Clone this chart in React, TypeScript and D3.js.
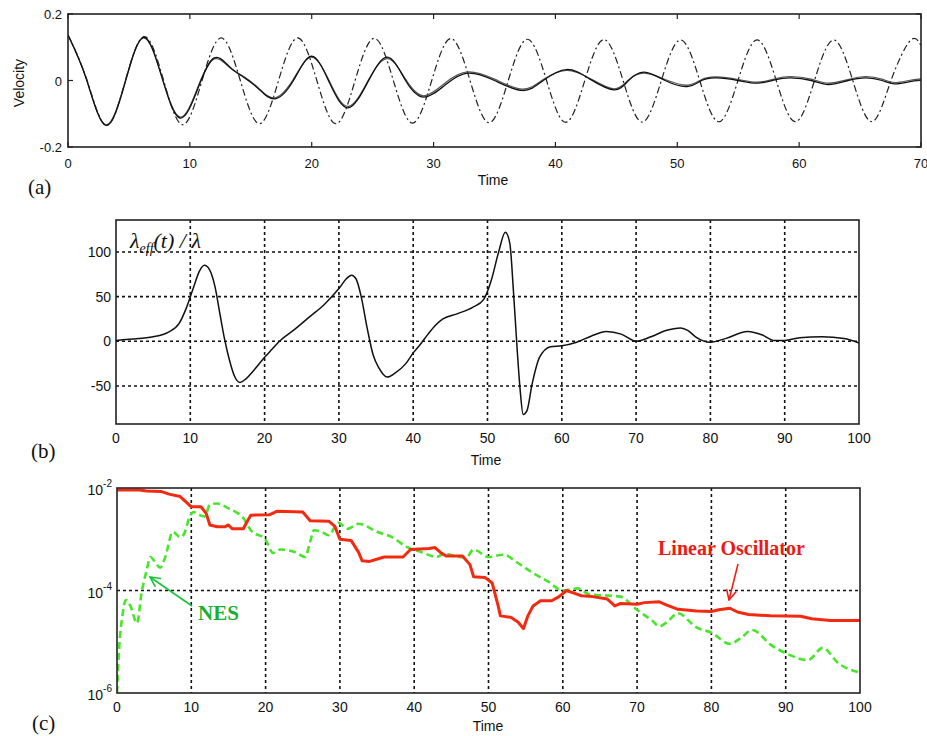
import React from "react";
import * as d3 from "d3";

// ---------- Panel (a): velocity ----------
const A_TICKS_X = [0, 10, 20, 30, 40, 50, 60, 70];
const A_TICKS_Y = [-0.2, 0, 0.2];
const A_DD_T = [0, 1.57, 3.14, 4.71, 6.28, 7.85, 9.42, 11.0, 12.57, 14.14, 15.71, 17.28, 18.85, 20.42, 21.99, 23.56, 25.13, 26.7, 28.27, 29.85, 31.42, 32.99, 34.56, 36.13, 37.7, 39.27, 40.84, 42.41, 43.98, 45.55, 47.12, 48.69, 50.27, 51.84, 53.41, 54.98, 56.55, 58.12, 59.69, 61.26, 62.83, 64.4, 65.97, 67.54, 69.12, 70];
const A_DD_V = [0.137, 0, -0.135, 0, 0.132, 0, -0.133, 0, 0.128, 0, -0.13, 0, 0.128, 0, -0.13, 0, 0.127, 0, -0.128, 0, 0.126, 0, -0.127, 0, 0.124, 0, -0.126, 0, 0.123, 0, -0.125, 0, 0.122, 0, -0.124, 0, 0.122, 0, -0.124, 0, 0.122, 0, -0.124, 0, 0.12, 0.105];
const A_S1_T = [0, 1.5, 3.1, 4.7, 6.2, 7.7, 9.2, 10.7, 12.0, 13.3, 14.5, 15.7, 17.0, 18.5, 20.0, 21.5, 23.0, 24.6, 26.2, 27.7, 29.2, 31.0, 32.8, 35.0, 37.3, 39.0, 40.9, 42.8, 44.8, 46.0, 47.3, 49.0, 50.8, 52.0, 53.2, 55.0, 56.6, 58.0, 59.3, 61.0, 62.4, 64.0, 65.5, 66.8, 67.8, 69.0, 70];
const A_S1_V = [0.137, 0.005, -0.135, -0.005, 0.13, 0.01, -0.113, -0.02, 0.068, 0.04, 0.008, -0.027, -0.055, 0.0, 0.073, -0.01, -0.082, -0.005, 0.07, 0.0, -0.05, -0.012, 0.022, 0.0, -0.03, 0.0, 0.033, 0.005, -0.028, 0.0, 0.025, 0.0, -0.018, 0.0, 0.008, 0.0, -0.008, 0.002, 0.008, 0.0, -0.012, 0.0, 0.008, 0.0, -0.01, -0.004, 0.001];
const A_S2_V = [0.137, 0.006, -0.133, -0.002, 0.128, 0.012, -0.11, -0.016, 0.065, 0.038, 0.01, -0.025, -0.052, 0.004, 0.07, -0.006, -0.078, -0.002, 0.066, 0.004, -0.046, -0.006, 0.026, 0.004, -0.026, 0.003, 0.03, 0.007, -0.025, 0.002, 0.022, 0.003, -0.014, 0.003, 0.011, 0.003, -0.005, 0.005, 0.012, 0.004, -0.008, 0.003, 0.012, 0.004, -0.006, 0.0, 0.005];

// ---------- Panel (b): lambda_eff / lambda ----------
const B_TICKS_X = [0, 10, 20, 30, 40, 50, 60, 70, 80, 90, 100];
const B_TICKS_Y = [-50, 0, 50, 100];
const B_T = [0, 3, 5, 7, 8.5, 9.5, 10.5, 11.2, 11.9, 12.6, 13.3, 14.0, 14.6, 15.3, 16.0, 16.7, 17.5, 18.5, 20, 21, 22, 24, 26, 28, 30, 31, 31.7, 32.3, 33, 33.8, 34.6, 35.4, 36.5, 37.5, 39, 40, 41, 42, 43, 44, 46, 48, 49.5, 50.5, 51.5, 52.4, 53.0, 53.5, 54.0, 54.4, 54.8, 55.3, 56, 57, 58.5, 60, 62, 64, 66, 68, 70, 72, 74, 76, 77, 78, 80, 82, 85, 87, 88.5, 90, 92, 95, 98, 100];
const B_V = [1, 3, 5, 10, 20, 38, 62, 78, 85, 80, 62, 30, 3, -22, -40, -46, -42, -33, -18, -9, 0, 13, 27, 41, 59, 70, 74, 70, 50, 15, -15, -30, -40, -36, -25, -13, -3, 8, 18, 25, 31, 38, 47, 68, 100, 122, 110, 55, -10, -55, -82, -78, -48, -18, -6, -5, -1, 6, 11, 8, 0, 5, 12, 15, 12, 5, -1, 3, 11, 7, 1, 1, 4, 5, 3, -2];

// ---------- Panel (c): energies (log) ----------
const C_TICKS_X = [0, 10, 20, 30, 40, 50, 60, 70, 80, 90, 100];
const C_TICKS_Y_EXP = [-6, -4, -2];
const C_LO_T = [0, 3, 4, 6, 7, 8.5, 9.5, 10, 11.3, 12, 12.5, 13.5, 14.5, 15, 15.5, 17, 17.5, 18, 20.5, 21.5, 25, 26, 28.5, 29.3, 30, 31.5, 32.5, 33, 34, 35.5, 36, 38.5, 39.5, 42, 42.8, 43.5, 44.3, 46.5, 47.5, 48, 49.5, 50.5, 51.3, 51.6, 53, 54, 54.7, 55.3, 56, 57, 58.5, 59.5, 60.5, 61.5, 62.5, 64, 66, 67, 67.8, 70, 71, 73, 74, 75.5, 78, 80, 81, 82.5, 83.5, 85, 88, 92, 93.5, 96, 100];
const C_LO_V = [9.1e-3, 9.1e-3, 8.7e-3, 8.5e-3, 7.6e-3, 6.8e-3, 5.0e-3, 4.3e-3, 4.3e-3, 3.2e-3, 1.9e-3, 1.75e-3, 1.75e-3, 1.9e-3, 1.6e-3, 1.6e-3, 2.2e-3, 2.95e-3, 3.0e-3, 3.5e-3, 3.4e-3, 2.3e-3, 2.25e-3, 1.8e-3, 1.0e-3, 9.5e-4, 5.6e-4, 3.8e-4, 3.7e-4, 4.3e-4, 4.5e-4, 4.5e-4, 6.3e-4, 6.6e-4, 6.9e-4, 5.6e-4, 4.7e-4, 4.7e-4, 3.2e-4, 1.85e-4, 1.8e-4, 1.4e-4, 5.0e-5, 3.2e-5, 3.0e-5, 2.4e-5, 1.8e-5, 3.2e-5, 5.0e-5, 6.3e-5, 6.3e-5, 7.6e-5, 1.0e-4, 8.9e-5, 7.9e-5, 7.6e-5, 6.8e-5, 5.0e-5, 5.6e-5, 5.4e-5, 5.8e-5, 6.0e-5, 5.2e-5, 4.3e-5, 4.0e-5, 3.9e-5, 4.2e-5, 4.5e-5, 3.8e-5, 3.4e-5, 3.2e-5, 3.15e-5, 2.8e-5, 2.6e-5, 2.6e-5];
const C_NES_T = [0, 0.3, 0.7, 1.2, 1.8, 2.7, 3.3, 4, 4.5, 5, 5.8, 6.5, 7.5, 8.5, 9, 9.8, 10.3, 11, 11.8, 12.5, 13.5, 15, 16, 17, 18, 20, 21, 22, 24, 25.3, 26, 26.5, 27.5, 28.5, 29.8, 31, 32.5, 35, 37, 39, 41, 43, 44, 46, 47, 48, 50, 52, 54, 56, 58, 60, 62, 63.5, 65, 67.7, 70, 72, 73, 74, 75.5, 78, 80, 82.5, 84, 85.5, 88, 90, 93, 95, 97, 100];
const C_NES_V = [1e-6, 7.9e-6, 3.0e-5, 6.5e-5, 5.0e-5, 2.3e-5, 8.9e-5, 2.5e-4, 4.5e-4, 3.8e-4, 2.8e-4, 4.5e-4, 1.4e-3, 1.1e-3, 1.25e-3, 2.8e-3, 3.4e-3, 3.0e-3, 2.8e-3, 4.7e-3, 5.0e-3, 4.0e-3, 3.4e-3, 2.6e-3, 1.5e-3, 9.8e-4, 5.4e-4, 6.3e-4, 5.6e-4, 4.5e-4, 8.9e-4, 1.5e-3, 1.4e-3, 1.2e-3, 2.1e-3, 1.6e-3, 2.0e-3, 1.4e-3, 1.1e-3, 7.1e-4, 5.6e-4, 4.5e-4, 5.2e-4, 4.5e-4, 4.4e-4, 6.3e-4, 4.5e-4, 5.0e-4, 3.4e-4, 2.2e-4, 1.5e-4, 1.0e-4, 1.1e-4, 8.5e-5, 8.1e-5, 7.6e-5, 4.2e-5, 2.6e-5, 2.0e-5, 2.4e-5, 3.6e-5, 1.9e-5, 1.5e-5, 9.1e-6, 1.2e-5, 1.7e-5, 8.7e-6, 6.0e-6, 4.4e-6, 7.6e-6, 3.9e-6, 2.5e-6];

const FONT = "Arial, 'Liberation Sans', sans-serif";
const SERIF = "'Times New Roman', 'Liberation Serif', serif";

function Box({ x0, x1, y0, y1 }: { x0: number; x1: number; y0: number; y1: number }) {
  return <rect x={x0} y={y0} width={x1 - x0} height={y1 - y0} fill="none" stroke="#222" strokeWidth={1.6} />;
}

export default function App() {
  // Panel a
  const ax = d3.scaleLinear().domain([0, 70]).range([68, 921]);
  const ay = d3.scaleLinear().domain([-0.2, 0.2]).range([147, 14]);
  const aLine = d3.line<[number, number]>().x((d) => ax(d[0])).y((d) => ay(d[1])).curve(d3.curveNatural);
  const ddPath = aLine(A_DD_T.map((t, i) => [t, A_DD_V[i]]))!;
  const s1Path = aLine(A_S1_T.map((t, i) => [t, A_S1_V[i]]))!;
  const s2Path = aLine(A_S1_T.map((t, i) => [t, A_S2_V[i]]))!;

  // Panel b
  const bx = d3.scaleLinear().domain([0, 100]).range([116, 859]);
  const by = d3.scaleLinear().domain([-92.6, 135.8]).range([424, 220]);
  const bLine = d3.line<[number, number]>().x((d) => bx(d[0])).y((d) => by(d[1])).curve(d3.curveMonotoneX);
  const bPath = bLine(B_T.map((t, i) => [t, B_V[i]]))!;

  // Panel c
  const cx = d3.scaleLinear().domain([0, 100]).range([117, 860]);
  const cy = d3.scaleLog().domain([1e-6, 1e-2]).range([693, 488]);
  const cLine = d3.line<[number, number]>().x((d) => cx(d[0])).y((d) => cy(d[1])).curve(d3.curveLinear);
  const cNesLine = d3.line<[number, number]>().x((d) => cx(d[0])).y((d) => cy(d[1])).curve(d3.curveMonotoneX);
  const loPath = cLine(C_LO_T.map((t, i) => [t, C_LO_V[i]]))!;
  const nesPath = cNesLine(C_NES_T.map((t, i) => [t, C_NES_V[i]]))!;

  const tickLen = 5;

  return (
    <svg width={927} height={736} style={{ position: "absolute", left: 0, top: 0, background: "#fff" }} fontFamily={FONT}>
      <defs>
        <marker id="arrG" viewBox="0 0 12 12" refX="11" refY="6" markerWidth="12" markerHeight="12" markerUnits="userSpaceOnUse" orient="auto">
          <path d="M1,1 L11,6 L1,11" fill="none" stroke="#19c43a" strokeWidth={1.6} />
        </marker>
        <marker id="arrR" viewBox="0 0 12 12" refX="11" refY="6" markerWidth="12" markerHeight="12" markerUnits="userSpaceOnUse" orient="auto">
          <path d="M1,1 L11,6 L1,11" fill="none" stroke="#f21b12" strokeWidth={1.6} />
        </marker>
        <clipPath id="clipA"><rect x={68} y={14} width={853} height={133} /></clipPath>
        <clipPath id="clipB"><rect x={116} y={220} width={743} height={204} /></clipPath>
        <clipPath id="clipC"><rect x={117} y={488} width={743} height={205} /></clipPath>
      </defs>

      {/* ---------------- Panel (a) ---------------- */}
      <g>
        <g clipPath="url(#clipA)">
          <path d={ddPath} fill="none" stroke="#222" strokeWidth={1.2} strokeDasharray="7,3,2,3" />
          <path d={s2Path} fill="none" stroke="#555" strokeWidth={1.2} />
          <path d={s1Path} fill="none" stroke="#111" strokeWidth={1.3} />
        </g>
        {A_TICKS_X.map((t) => (
          <g key={"ax" + t}>
            <line x1={ax(t)} x2={ax(t)} y1={147} y2={147 - tickLen} stroke="#222" strokeWidth={1.2} />
            <line x1={ax(t)} x2={ax(t)} y1={14} y2={14 + tickLen} stroke="#222" strokeWidth={1.2} />
            <text x={ax(t)} y={168} fontSize={13} textAnchor="middle" fill="#111">{t}</text>
          </g>
        ))}
        {A_TICKS_Y.map((v) => (
          <g key={"ay" + v}>
            <line x1={68} x2={68 + tickLen} y1={ay(v)} y2={ay(v)} stroke="#222" strokeWidth={1.2} />
            <line x1={921} x2={921 - tickLen} y1={ay(v)} y2={ay(v)} stroke="#222" strokeWidth={1.2} />
            <text x={62} y={ay(v) + 5} fontSize={13} textAnchor="end" fill="#111">{v === 0 ? "0" : String(v)}</text>
          </g>
        ))}
        <Box x0={68} x1={921} y0={14} y1={147} />
        <text x={493} y={185} fontSize={14} textAnchor="middle" fill="#111">Time</text>
        <text transform="translate(24,83) rotate(-90)" fontSize={14} textAnchor="middle" fill="#111">Velocity</text>
        <text x={28} y={194} fontSize={21} fontFamily={SERIF} fill="#111">(a)</text>
      </g>

      {/* ---------------- Panel (b) ---------------- */}
      <g>
        {B_TICKS_X.slice(1, -1).map((t) => (
          <line key={"bgx" + t} x1={bx(t)} x2={bx(t)} y1={220} y2={424} stroke="#111" strokeWidth={1.6} strokeDasharray="3,3" />
        ))}
        {B_TICKS_Y.map((v) => (
          <line key={"bgy" + v} x1={116} x2={859} y1={by(v)} y2={by(v)} stroke="#111" strokeWidth={1.6} strokeDasharray="3,3" />
        ))}
        <g clipPath="url(#clipB)">
          <path d={bPath} fill="none" stroke="#111" strokeWidth={1.5} />
        </g>
        {B_TICKS_X.map((t) => (
          <text key={"bx" + t} x={bx(t)} y={443} fontSize={14} textAnchor="middle" fill="#111">{t}</text>
        ))}
        {B_TICKS_Y.map((v) => (
          <text key={"by" + v} x={111} y={by(v) + 5} fontSize={14} textAnchor="end" fill="#111">{v}</text>
        ))}
        <Box x0={116} x1={859} y0={220} y1={424} />
        <text x={486} y={465} fontSize={14} textAnchor="middle" fill="#111">Time</text>
        <text x={130} y={248} fontSize={22} fontFamily={SERIF} fontStyle="italic" fill="#111">
          λ<tspan fontSize={14} dy={5}>eff</tspan><tspan dy={-5}>(t) / λ</tspan>
        </text>
        <text x={31} y={458} fontSize={21} fontFamily={SERIF} fill="#111">(b)</text>
      </g>

      {/* ---------------- Panel (c) ---------------- */}
      <g>
        {C_TICKS_X.slice(1, -1).map((t) => (
          <line key={"cgx" + t} x1={cx(t)} x2={cx(t)} y1={488} y2={693} stroke="#111" strokeWidth={1.6} strokeDasharray="3,3" />
        ))}
        <line x1={117} x2={860} y1={cy(1e-4)} y2={cy(1e-4)} stroke="#111" strokeWidth={1.6} strokeDasharray="3,3" />
        <g clipPath="url(#clipC)">
          <path d={nesPath} fill="none" stroke="#47e62a" strokeWidth={2.6} strokeDasharray="7,4" />
          <path d={loPath} fill="none" stroke="#f42a10" strokeWidth={3} strokeLinejoin="round" />
        </g>
        {C_TICKS_X.map((t) => (
          <text key={"cx" + t} x={cx(t)} y={712} fontSize={14} textAnchor="middle" fill="#111">{t}</text>
        ))}
        {C_TICKS_Y_EXP.map((e) => (
          <text key={"cy" + e} x={112} y={cy(Math.pow(10, e)) + 7} fontSize={14} textAnchor="end" fill="#111">
            10<tspan fontSize={10} dy={-8}>{String(e)}</tspan>
          </text>
        ))}
        <Box x0={117} x1={860} y0={488} y1={693} />
        <text x={488} y={731} fontSize={14} textAnchor="middle" fill="#111">Time</text>
        <text x={32} y={730} fontSize={21} fontFamily={SERIF} fill="#111">(c)</text>

        <line x1={192} y1={606} x2={150} y2={577} stroke="#19c43a" strokeWidth={1.6} markerEnd="url(#arrG)" />
        <text x={198} y={620} fontSize={21} fontWeight="bold" fontFamily={SERIF} fill="#16b034">NES</text>

        <line x1={738} y1={564} x2={729} y2={600} stroke="#f21b12" strokeWidth={1.6} markerEnd="url(#arrR)" />
        <text x={658} y={555} fontSize={20} fontWeight="bold" fontFamily={SERIF} fill="#ee1a12">Linear Oscillator</text>
      </g>
    </svg>
  );
}
